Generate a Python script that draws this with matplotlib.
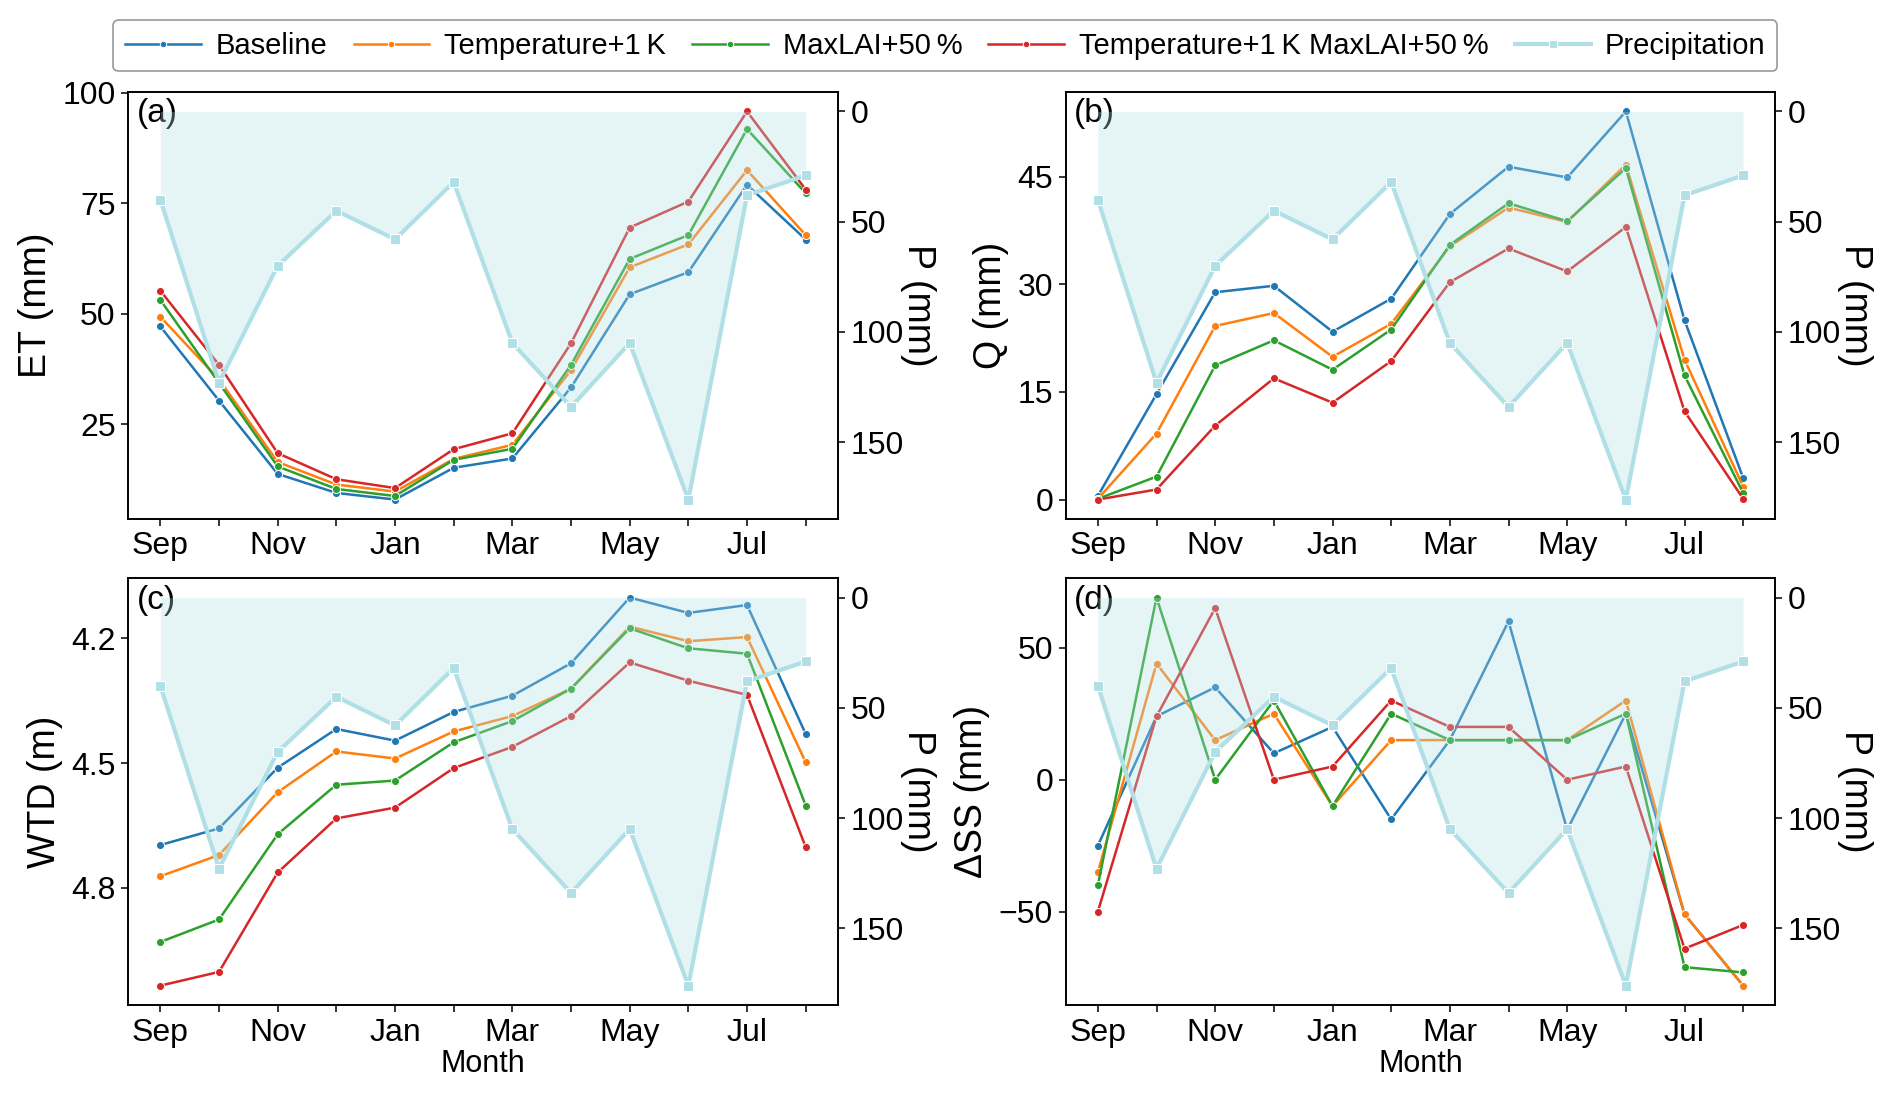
import numpy as np
import matplotlib
matplotlib.use("Agg")
import matplotlib.pyplot as plt

plt.rcParams["font.family"] = ["Liberation Sans", "DejaVu Sans"]

# ---------------------------------------------------------------------------
# Data (hydrological year Sep..Aug)
# ---------------------------------------------------------------------------
MONTHS = ["Sep", "Oct", "Nov", "Dec", "Jan", "Feb", "Mar", "Apr", "May", "Jun", "Jul", "Aug"]

precip = [40, 123, 70, 45, 58, 32, 105, 134, 105, 176, 38, 29]

et_base = [47.1, 30.3, 13.7, 9.4, 7.9, 15.1, 17.2, 33.3, 54.4, 59.4, 79.2, 66.8]
et_temp = [49.3, 35.1, 16.4, 11.3, 9.7, 17.1, 20.3, 37.2, 60.5, 65.7, 82.5, 67.8]
et_lai = [53.1, 34.3, 15.4, 10.3, 8.7, 16.9, 19.4, 38.4, 62.4, 67.8, 91.8, 77.3]
et_both = [55.2, 38.4, 18.4, 12.5, 10.5, 19.3, 22.9, 43.3, 69.5, 75.4, 95.8, 78.1]

q_base = [0.5, 14.7, 28.9, 29.8, 23.4, 28.0, 39.8, 46.4, 44.9, 54.1, 25.0, 3.0]
q_temp = [0.1, 9.2, 24.2, 26.0, 19.9, 24.5, 35.3, 40.7, 38.7, 46.7, 19.5, 1.8]
q_lai = [0.1, 3.2, 18.7, 22.2, 18.1, 23.7, 35.5, 41.3, 38.8, 46.2, 17.3, 0.9]
q_both = [0.0, 1.4, 10.3, 16.9, 13.5, 19.3, 30.3, 35.0, 31.8, 38.0, 12.3, 0.1]

wtd_base = [4.697, 4.657, 4.511, 4.418, 4.446, 4.377, 4.338, 4.260, 4.102, 4.139, 4.120, 4.430]
wtd_temp = [4.772, 4.721, 4.570, 4.472, 4.489, 4.424, 4.387, 4.321, 4.172, 4.207, 4.197, 4.498]
wtd_lai = [4.930, 4.876, 4.671, 4.552, 4.542, 4.450, 4.399, 4.321, 4.176, 4.224, 4.237, 4.602]
wtd_both = [5.035, 5.002, 4.763, 4.633, 4.607, 4.512, 4.461, 4.387, 4.258, 4.302, 4.336, 4.702]

ds_base = [-25, 24, 35, 10, 20, -15, 15, 60, -19, 25, -51, -78]
ds_temp = [-35, 44, 15, 25, -10, 15, 15, 15, 15, 30, -51, -78]
ds_lai = [-40, 69, 0, 30, -10, 25, 15, 15, 15, 25, -71, -73]
ds_both = [-50, 24, 65, 0, 5, 30, 20, 20, 0, 5, -64, -55]

SCENARIOS = ["Baseline", "Temperature+1\u2009K", "MaxLAI+50\u2009%", "Temperature+1\u2009K MaxLAI+50\u2009%"]
COLORS = ["#1f77b4", "#ff7f0e", "#2ca02c", "#d62728"]
P_COLOR = "#b0e0e6"

PANELS = [
    ("(a)", "ET (mm)", [et_base, et_temp, et_lai, et_both], False),
    ("(b)", "Q (mm)", [q_base, q_temp, q_lai, q_both], False),
    ("(c)", "WTD (m)", [wtd_base, wtd_temp, wtd_lai, wtd_both], True),
    ("(d)", "\u0394SS (mm)", [ds_base, ds_temp, ds_lai, ds_both], False),
]

YTICKS = [[25, 50, 75, 100], [0, 15, 30, 45], [4.2, 4.5, 4.8], [-50, 0, 50]]

# ---------------------------------------------------------------------------
# Figure
# ---------------------------------------------------------------------------
fig = plt.figure(figsize=(18.92, 10.96), dpi=100)
lefts = [0.0677, 0.5632]
bottoms = [0.5265, 0.083]
w, h = 0.3752, 0.3895

x = np.arange(len(MONTHS))
handles = None

for i, (tag, ylabel, series, invert) in enumerate(PANELS):
    row, col = divmod(i, 2)
    ax = fig.add_axes([lefts[col], bottoms[row], w, h])
    lines = []
    for vals, name, c in zip(series, SCENARIOS, COLORS):
        ln, = ax.plot(x, vals, color=c, lw=1.8, marker="o", ms=5.8,
                      mec="white", mew=0.7, label=name)
        lines.append(ln)
    if invert:
        ax.invert_yaxis()
    ax.set_yticks(YTICKS[i])
    ax.set_xticks(x)
    ax.set_xticklabels([m if k % 2 == 0 else "" for k, m in enumerate(MONTHS)])
    ax.tick_params(labelsize=23, length=5, width=1.1, pad=4)
    ax.set_ylabel(ylabel, fontsize=27, labelpad=6)
    if row == 1:
        ax.set_xlabel("Month", fontsize=22, labelpad=1)
    for sp in ax.spines.values():
        sp.set_linewidth(1.2)

    # precipitation on a twin axis, drawn over the lines
    ax2 = ax.twinx()
    ax2.fill_between(x, 0, precip, color=P_COLOR, alpha=0.32, lw=0)
    pl, = ax2.plot(x, precip, color=P_COLOR, lw=3, marker="s", ms=7,
                   mec="white", mew=0.8, label="Precipitation")
    ax2.invert_yaxis()
    ax2.set_yticks([0, 50, 100, 150])
    ax2.tick_params(labelsize=23, length=5, width=1.1, pad=4)
    ax2.set_ylabel("P (mm)", fontsize=27, rotation=270, labelpad=23)
    ax.text(0.012, 0.985, tag, transform=ax.transAxes, fontsize=24,
            va="top", ha="left", zorder=10)
    for sp in ax2.spines.values():
        sp.set_linewidth(1.2)
    if handles is None:
        handles = lines + [pl]

leg = fig.legend(handles=handles, loc="upper center", bbox_to_anchor=(0.4997, 0.995),
                 ncol=5, fontsize=21, frameon=True, fancybox=True, markerscale=0.8,
                 handlelength=2.6, columnspacing=0.9, handletextpad=0.5,
                 borderpad=0.4, edgecolor="#808080")
leg.get_frame().set_linewidth(1.2)

fig.savefig("out.png", dpi=100)
